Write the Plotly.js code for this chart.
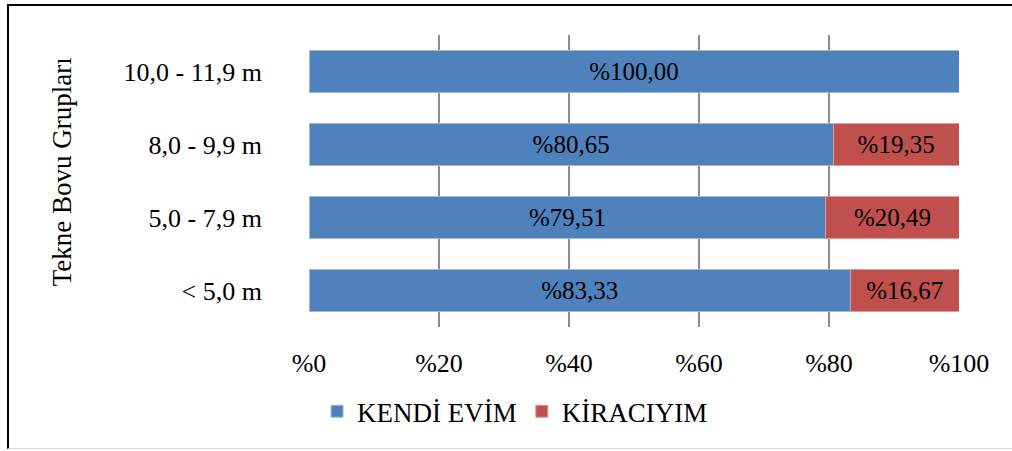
<!DOCTYPE html>
<html>
<head>
<meta charset="utf-8">
<script src="https://cdn.plot.ly/plotly-3.0.1.min.js"></script>
<style>
html,body{margin:0;padding:0;background:#fff;}
#wrap{position:relative;width:1012px;height:451px;}
#chart{position:absolute;left:0;top:0;width:1012px;height:451px;}
#frame{position:absolute;left:7px;top:4px;width:1005px;height:445px;border-left:2px solid #000;border-top:2px solid #000;border-bottom:1px solid #d9d9d9;box-sizing:border-box;pointer-events:none;}
</style>
</head>
<body>
<div id="wrap">
<div id="chart"></div>
<div id="frame"></div>
</div>
<script>
const categories = ["< 5,0 m", "5,0 - 7,9 m", "8,0 - 9,9 m", "10,0 - 11,9 m"];
const kendiEvim = [83.33, 79.51, 80.65, 100.00];
const kiraciyim = [16.67, 20.49, 19.35, 0];
const seriesNames = ["KENDİ EVİM", "KİRACIYIM"];
const xTicks = [0, 20, 40, 60, 80, 100];
const yTitle = "Tekne Bovu Grupları";

function fmt(v){ return v > 0 ? "%" + v.toFixed(2).replace(".", ",") : ""; }

const FAM = "Liberation Serif";
const FS = 26;

const traces = [
  {type: "bar", orientation: "h", name: seriesNames[0], y: categories, x: kendiEvim,
   text: kendiEvim.map(fmt), textposition: "inside", insidetextanchor: "middle",
   textfont: {family: FAM, size: 25, color: "#000"}, constraintext: "none",
   marker: {color: "#4F81BD", line: {color: "#9fb8d9", width: 1}}},
  {type: "bar", orientation: "h", name: seriesNames[1], y: categories, x: kiraciyim,
   text: kiraciyim.map(fmt), textposition: "inside", insidetextanchor: "middle",
   textfont: {family: FAM, size: 25, color: "#000"}, constraintext: "none",
   marker: {color: "#C0504D", line: {color: "#dc9c9a", width: 1}}}
];

const layout = {
  width: 1012, height: 451,
  margin: {l: 309, r: 53, t: 35, b: 124},
  paper_bgcolor: "#fff", plot_bgcolor: "#fff",
  barmode: "stack", bargap: 0.42,
  font: {family: FAM, size: FS, color: "#000"},
  showlegend: true,
  legend: {orientation: "h", x: 0.317, xanchor: "center", y: -0.29, yanchor: "middle",
           font: {family: FAM, size: 27, color: "#000"}, itemwidth: 30,
           traceorder: "normal"},
  xaxis: {range: [0, 100], tickvals: xTicks, ticktext: xTicks.map(v => "%" + v),
          showgrid: true, gridcolor: "#8c8c8c", gridwidth: 2, zeroline: false,
          showline: false, ticks: "", ticklabelstandoff: 18, fixedrange: true,
          tickfont: {family: FAM, size: FS, color: "#000"}},
  yaxis: {type: "category", categoryorder: "array", categoryarray: categories,
          range: [-0.5, 3.5], showgrid: false, zeroline: false, showline: false, ticks: "",
          ticklabelstandoff: 46, fixedrange: true,
          tickfont: {family: FAM, size: FS, color: "#000"}},
  annotations: [{text: yTitle, xref: "paper", yref: "paper", x: -0.38, y: 0.53,
                 xanchor: "center", yanchor: "middle", textangle: -90, showarrow: false,
                 font: {family: FAM, size: 27, color: "#000"}}]
};

Plotly.newPlot("chart", traces, layout, {displayModeBar: false, staticPlot: true});
</script>
</body>
</html>
